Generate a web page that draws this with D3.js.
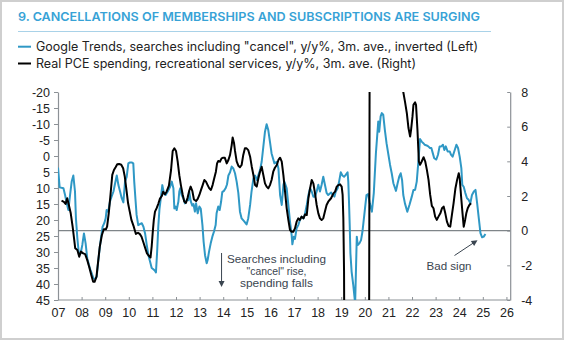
<!DOCTYPE html>
<html>
<head>
<meta charset="utf-8">
<script src="https://cdn.jsdelivr.net/npm/d3@7"></script>
<style>
  html, body { margin: 0; padding: 0; background: #fff; }
  svg { display: block; }
  text { font-family: "Liberation Sans", Arial, sans-serif; }
</style>
</head>
<body>
<svg id="chart" width="564" height="340"></svg>
<script>
// ---------- DATA ----------
const titleText = "9. CANCELLATIONS OF MEMBERSHIPS AND SUBSCRIPTIONS ARE SURGING";
const legendLabels = [
  "Google Trends, searches including \"cancel\", y/y%, 3m. ave., inverted (Left)",
  "Real PCE spending, recreational services, y/y%, 3m. ave. (Right)"
];
const xTicks = d3.range(2007, 2027);
const leftTicks = d3.range(-20, 46, 5);
const rightTicks = [-4, -2, 0, 2, 4, 6, 8];

// Google Trends "cancel" searches, y/y %, inverted (left axis) [year, value]
const googleTrends = [
[2007.00,3.6],[2007.07,9.8],[2007.23,10.1],[2007.30,12.2],[2007.37,14.8],[2007.44,16.9],[2007.51,12.2],[2007.58,8.0],
[2007.65,6.1],[2007.72,11.1],[2007.76,19.5],[2007.82,25.7],[2007.89,31.0],[2007.96,30.4],[2008.03,27.8],[2008.10,24.2],
[2008.17,27.3],[2008.24,32.0],[2008.31,34.0],[2008.37,35.5],[2008.43,36.7],[2008.50,38.2],[2008.57,38.5],[2008.64,37.7],
[2008.68,34.6],[2008.75,29.9],[2008.82,25.7],[2008.89,22.1],[2008.96,21.0],[2009.02,19.5],[2009.06,16.9],[2009.13,17.4],
[2009.20,14.3],[2009.27,12.7],[2009.35,11.1],[2009.42,8.5],[2009.49,6.1],[2009.56,9.1],[2009.63,11.1],[2009.70,13.2],
[2009.77,14.5],[2009.84,8.0],[2009.91,6.5],[2009.98,2.3],[2010.05,2.0],[2010.12,2.0],[2010.19,2.3],[2010.23,8.0],
[2010.29,14.3],[2010.33,18.4],[2010.40,21.6],[2010.47,21.3],[2010.55,21.0],[2010.62,22.1],[2010.69,24.2],[2010.76,27.8],
[2010.83,31.0],[2010.90,33.0],[2010.97,35.0],[2011.04,35.4],[2011.10,35.8],[2011.15,36.4],[2011.20,30.0],[2011.25,22.0],
[2011.30,16.5],[2011.36,13.0],[2011.42,9.1],[2011.49,11.7],[2011.56,12.2],[2011.65,11.1],[2011.75,9.6],[2011.82,8.0],
[2011.89,10.1],[2011.93,16.4],[2011.98,15.8],[2012.03,16.9],[2012.07,15.3],[2012.10,14.3],[2012.14,11.1],[2012.18,10.1],
[2012.24,12.2],[2012.31,13.2],[2012.38,14.8],[2012.45,13.8],[2012.52,13.8],[2012.56,11.1],[2012.62,14.0],[2012.69,15.5],
[2012.74,15.0],[2012.80,17.4],[2012.85,14.8],[2012.92,17.9],[2012.99,15.8],[2013.05,16.5],[2013.12,21.6],[2013.17,26.8],
[2013.23,31.0],[2013.30,33.5],[2013.34,32.5],[2013.40,29.9],[2013.47,27.3],[2013.54,25.2],[2013.61,23.6],[2013.68,21.6],
[2013.72,17.9],[2013.79,15.8],[2013.85,16.9],[2013.91,14.3],[2013.96,11.3],[2014.03,10.9],[2014.10,10.1],[2014.16,8.9],
[2014.22,6.1],[2014.29,5.1],[2014.36,3.3],[2014.43,3.9],[2014.50,5.4],[2014.57,8.0],[2014.64,11.5],[2014.71,17.4],
[2014.78,19.5],[2014.90,20.5],[2014.99,21.4],[2015.06,19.5],[2015.14,15.3],[2015.20,11.1],[2015.28,7.0],[2015.35,6.1],
[2015.42,7.5],[2015.49,6.0],[2015.56,4.4],[2015.63,1.8],[2015.70,-2.9],[2015.77,-7.6],[2015.84,-9.9],[2015.91,-8.1],
[2015.98,-4.5],[2016.05,-0.8],[2016.17,2.3],[2016.27,1.8],[2016.34,3.9],[2016.41,12.2],[2016.48,15.3],[2016.55,9.1],
[2016.59,8.0],[2016.69,10.1],[2016.76,15.3],[2016.83,20.5],[2016.90,24.7],[2016.93,27.6],[2016.99,25.2],[2017.04,25.9],
[2017.11,22.6],[2017.18,21.6],[2017.25,20.0],[2017.32,19.0],[2017.40,19.5],[2017.47,17.9],[2017.54,15.3],[2017.61,12.2],
[2017.68,10.1],[2017.75,11.1],[2017.82,12.7],[2017.89,12.7],[2017.96,11.1],[2018.03,9.0],[2018.10,11.1],[2018.17,9.0],
[2018.24,6.5],[2018.31,9.0],[2018.38,11.5],[2018.45,12.2],[2018.57,11.4],[2018.64,12.2],[2018.71,12.7],[2018.77,11.1],
[2018.85,10.1],[2018.91,8.0],[2018.98,5.1],[2019.05,6.1],[2019.12,6.5],[2019.19,5.9],[2019.27,5.1],[2019.30,8.0],
[2019.33,14.3],[2019.36,21.6],[2019.39,30.4],[2019.44,36.1],[2019.51,40.3],[2019.59,46.0],[2019.66,25.2],[2019.70,27.8],
[2019.77,27.3],[2019.84,26.3],[2019.90,23.6],[2020.00,16.9],[2020.07,12.2],[2020.14,11.9],[2020.21,14.8],[2020.30,17.4],
[2020.38,11.6],[2020.47,-0.9],[2020.57,-10.8],[2020.61,-7.6],[2020.67,-12.4],[2020.72,-13.4],[2020.78,-12.9],[2020.85,-8.1],
[2020.92,-4.0],[2021.00,-0.4],[2021.07,2.8],[2021.14,5.4],[2021.21,8.5],[2021.32,10.9],[2021.39,8.5],[2021.46,6.4],
[2021.52,5.4],[2021.58,7.6],[2021.63,12.2],[2021.70,14.8],[2021.80,17.4],[2021.89,15.3],[2021.99,12.7],[2022.06,10.6],
[2022.13,10.6],[2022.20,8.0],[2022.27,1.7],[2022.34,-5.3],[2022.41,-4.5],[2022.48,-4.0],[2022.54,-3.5],[2022.62,-3.3],
[2022.69,-3.0],[2022.76,-2.5],[2022.82,-2.5],[2022.88,-0.9],[2022.94,0.7],[2023.03,1.1],[2023.10,-0.4],[2023.17,-3.0],
[2023.24,-3.0],[2023.31,-3.5],[2023.37,-1.9],[2023.43,-3.0],[2023.51,-1.4],[2023.60,-1.4],[2023.65,-0.4],[2023.72,0.2],
[2023.79,-1.4],[2023.88,-3.5],[2023.95,-2.5],[2024.02,0.2],[2024.09,3.8],[2024.13,9.0],[2024.19,9.6],[2024.26,11.6],
[2024.33,13.2],[2024.40,13.7],[2024.47,14.8],[2024.54,12.2],[2024.62,11.1],[2024.69,10.6],[2024.76,14.8],[2024.83,19.5],
[2024.90,24.1],[2024.97,25.4],[2025.04,25.2],[2025.11,24.4]
];

// Real PCE spending, recreational services, y/y %, 3m ave (right axis) [year, value]
const realPCE = [
[2007.15,1.73],[2007.25,1.66],[2007.32,1.54],[2007.39,1.87],[2007.45,1.54],[2007.54,1.0],[2007.62,0.23],[2007.68,-0.44],
[2007.73,-1.02],[2007.82,-1.12],[2007.90,-1.5],[2007.97,-1.21],[2008.07,-1.31],[2008.15,-1.35],[2008.24,-1.7],[2008.32,-2.08],
[2008.41,-2.56],[2008.49,-2.95],[2008.55,-2.95],[2008.63,-2.66],[2008.70,-1.79],[2008.77,-0.92],[2008.86,-0.25],[2008.94,0.08],
[2009.03,0.08],[2009.08,0.23],[2009.15,1.0],[2009.23,2.16],[2009.30,3.22],[2009.37,3.5],[2009.44,3.66],[2009.51,3.83],
[2009.59,3.85],[2009.68,3.8],[2009.76,3.6],[2009.83,3.12],[2009.90,2.35],[2009.97,1.58],[2010.04,1.1],[2010.11,0.62],
[2010.21,0.23],[2010.30,-0.19],[2010.39,-0.12],[2010.47,-0.2],[2010.54,-0.35],[2010.61,-0.64],[2010.70,-1.02],[2010.77,-1.31],
[2010.85,-1.45],[2010.92,-1.55],[2010.97,-0.9],[2011.02,0.0],[2011.06,0.62],[2011.11,1.1],[2011.18,1.3],[2011.25,1.55],
[2011.32,1.85],[2011.40,2.0],[2011.46,2.25],[2011.53,2.1],[2011.60,2.25],[2011.70,2.6],[2011.79,3.5],[2011.86,4.6],
[2011.93,4.75],[2012.00,4.6],[2012.07,4.0],[2012.14,3.2],[2012.21,2.6],[2012.28,2.1],[2012.35,1.68],[2012.42,1.6],
[2012.49,1.9],[2012.56,2.3],[2012.62,2.54],[2012.69,2.3],[2012.76,1.8],[2012.85,1.71],[2012.92,1.83],[2012.99,2.06],
[2013.06,2.35],[2013.13,2.63],[2013.20,2.92],[2013.27,2.83],[2013.34,2.63],[2013.41,2.44],[2013.48,2.35],[2013.55,2.63],
[2013.62,3.02],[2013.69,3.4],[2013.74,3.88],[2013.79,4.02],[2013.86,3.98],[2013.93,4.17],[2014.00,4.21],[2014.07,4.2],
[2014.15,3.88],[2014.22,4.08],[2014.29,4.37],[2014.36,4.94],[2014.40,5.38],[2014.46,5.04],[2014.50,4.6],[2014.57,4.0],
[2014.64,3.75],[2014.71,3.66],[2014.78,3.79],[2014.85,4.37],[2014.92,4.75],[2014.99,4.75],[2015.06,4.65],[2015.14,4.27],
[2015.21,3.69],[2015.28,3.21],[2015.35,2.63],[2015.42,2.54],[2015.49,3.02],[2015.56,3.4],[2015.63,3.69],[2015.70,3.21],
[2015.77,2.73],[2015.84,2.54],[2015.91,2.44],[2015.98,2.63],[2016.05,2.92],[2016.12,3.4],[2016.19,3.63],[2016.27,3.79],
[2016.34,4.08],[2016.41,4.21],[2016.48,3.98],[2016.55,3.21],[2016.62,2.25],[2016.69,1.29],[2016.76,0.62],[2016.83,0.04],
[2016.90,-0.06],[2016.97,-0.06],[2017.04,0.13],[2017.11,0.52],[2017.18,0.71],[2017.25,0.62],[2017.32,0.81],[2017.40,0.71],
[2017.47,0.94],[2017.54,0.9],[2017.61,1.87],[2017.68,2.44],[2017.75,2.92],[2017.82,2.73],[2017.89,2.15],[2017.96,1.48],
[2018.03,1.0],[2018.10,0.71],[2018.17,0.62],[2018.24,0.71],[2018.31,1.1],[2018.38,1.48],[2018.45,1.67],[2018.57,1.87],
[2018.67,2.15],[2018.74,2.25],[2018.81,2.54],[2018.88,2.63],[2018.95,2.67],[2019.02,2.54],[2019.06,2.06],[2019.09,0.71],
[2019.12,-2.37],[2019.15,-12],[2019.60,-30],[2020.17,-14],[2020.21,14],[2020.90,30],[2021.55,10],[2021.63,8.0],
[2021.70,7.46],[2021.78,6.78],[2021.85,5.92],[2021.92,5.43],[2021.96,5.82],[2022.02,6.59],[2022.06,7.26],[2022.13,7.4],
[2022.17,7.26],[2022.23,5.82],[2022.29,3.99],[2022.34,3.8],[2022.41,3.99],[2022.49,4.24],[2022.56,3.99],[2022.63,3.51],
[2022.70,2.93],[2022.77,2.06],[2022.84,1.43],[2022.91,1.29],[2022.98,0.81],[2023.05,0.62],[2023.12,0.81],[2023.20,1.0],
[2023.27,1.29],[2023.34,1.39],[2023.41,1.0],[2023.48,0.52],[2023.55,0.27],[2023.62,0.23],[2023.69,0.91],[2023.76,1.58],
[2023.84,2.45],[2023.91,2.93],[2023.98,3.31],[2024.02,3.03],[2024.08,1.97],[2024.14,1.0],[2024.19,0.23],[2024.25,0.62],
[2024.30,1.0],[2024.36,1.29],[2024.43,1.48],[2024.50,1.58]
];

const annoSearches = ["Searches including", "\"cancel\" rise,", "spending falls"];
const annoBad = "Bad sign";

// ---------- STYLE ----------
const blue = "#2f98c5";
const titleBlue = "#37a2d6";
const axisGray = "#8c9196";
const textDark = "#222";
const annoColor = "#3a4550";

const svg = d3.select("#chart");
const W = 564, H = 340;
const plot = { left: 58, right: 510.2, top: 92, bottom: 300 };

// frame
svg.append("rect").attr("x", 1).attr("y", 1).attr("width", W - 2).attr("height", H - 2)
  .attr("fill", "#fff").attr("stroke", "#cfcfcf").attr("stroke-width", 2);

// title
svg.append("text").attr("x", 18).attr("y", 20.5)
  .attr("font-weight", 600).attr("font-size", 12.2).attr("fill", titleBlue)
  .attr("textLength", 462).attr("lengthAdjust", "spacingAndGlyphs")
  .style("font-family", "Inter, 'Open Sans', sans-serif")
  .text(titleText);
svg.append("line").attr("x1", 18).attr("x2", 491).attr("y1", 31.5).attr("y2", 31.5)
  .attr("stroke", "#a9d2e8").attr("stroke-width", 1);

// legend
const legendColors = [blue, "#000"];
const legendWidths = [442, 380];
legendLabels.forEach((lab, i) => {
  const y = 46.7 + i * 16.8;
  svg.append("line").attr("x1", 18).attr("x2", 31).attr("y1", y).attr("y2", y)
    .attr("stroke", legendColors[i]).attr("stroke-width", 2);
  svg.append("text").attr("x", 36).attr("y", y + 4.4)
    .attr("font-size", 12.6).attr("fill", textDark)
    .style("font-family", "Inter, 'Open Sans', sans-serif")
    .attr("textLength", legendWidths[i]).attr("lengthAdjust", "spacingAndGlyphs")
    .text(lab);
});

// scales
const x = d3.scaleLinear().domain([2007, 2026.16]).range([plot.left, plot.right]);
const yL = d3.scaleLinear().domain([-20, 45]).range([plot.top, plot.bottom]);
const yR = d3.scaleLinear().domain([8, -4]).range([plot.top, plot.bottom]);

// axes
const fmtYear = d => String(d % 100).padStart(2, "0");
const gx = svg.append("g").attr("transform", `translate(0,${plot.bottom})`)
  .call(d3.axisBottom(x).tickValues(xTicks).tickFormat(fmtYear).tickSize(-3).tickPadding(8).tickSizeOuter(0));
const gl = svg.append("g").attr("transform", `translate(${plot.left},0)`)
  .call(d3.axisLeft(yL).tickValues(leftTicks).tickFormat(d => String(d)).tickSize(4).tickPadding(4).tickSizeOuter(0));
const gr = svg.append("g").attr("transform", `translate(${plot.right},0)`)
  .call(d3.axisRight(yR).tickValues(rightTicks).tickFormat(d => String(d)).tickSize(-3).tickPadding(11).tickSizeOuter(0));

[gx, gl, gr].forEach(g => {
  g.select(".domain").attr("stroke", axisGray).attr("stroke-width", 1.2);
  g.selectAll(".tick line").attr("stroke", axisGray);
  g.selectAll(".tick text").attr("fill", textDark).attr("font-size", 12.5)
    .style("font-family", "'Liberation Sans', Arial, sans-serif");
});
gx.select(".domain").attr("d", `M${plot.left},0H${plot.right}`);

// zero line (right axis 0)
svg.append("line").attr("x1", plot.left).attr("x2", plot.right)
  .attr("y1", yR(0)).attr("y2", yR(0))
  .attr("stroke", "#7f8589").attr("stroke-width", 1.2);

// clip
svg.append("clipPath").attr("id", "clip").append("rect")
  .attr("x", plot.left).attr("y", plot.top)
  .attr("width", plot.right - plot.left).attr("height", plot.bottom - plot.top);

const lineL = d3.line().x(d => x(d[0])).y(d => yL(d[1]));
const lineR = d3.line().x(d => x(d[0])).y(d => yR(d[1]));

svg.append("path").datum(googleTrends).attr("clip-path", "url(#clip)")
  .attr("d", lineL).attr("fill", "none").attr("stroke", blue)
  .attr("stroke-width", 2).attr("stroke-linejoin", "round");
svg.append("path").datum(realPCE).attr("clip-path", "url(#clip)")
  .attr("d", lineR).attr("fill", "none").attr("stroke", "#000")
  .attr("stroke-width", 2).attr("stroke-linejoin", "round");

// annotation: searches
const annoX = x(2013.93);
const annoWidths = [99, 60, 73];
annoSearches.forEach((t, i) => {
  svg.append("text").attr("x", 276.5).attr("y", 262.5 + i * 12.4)
    .attr("text-anchor", "middle").attr("font-size", 10.8).attr("fill", annoColor)
    .attr("textLength", annoWidths[i]).attr("lengthAdjust", "spacingAndGlyphs")
    .style("font-family", "'Liberation Sans', Arial, sans-serif")
    .text(t);
});
svg.append("line").attr("x1", annoX).attr("x2", annoX).attr("y1", 253).attr("y2", 282)
  .attr("stroke", annoColor).attr("stroke-width", 1);
svg.append("path")
  .attr("d", `M${annoX - 3},${281} L${annoX + 3},${281} L${annoX},${287} Z`)
  .attr("fill", annoColor);

// annotation: bad sign
svg.append("text").attr("x", 449).attr("y", 269.5)
  .attr("text-anchor", "middle").attr("font-size", 10.8).attr("fill", annoColor)
  .attr("textLength", 45).attr("lengthAdjust", "spacingAndGlyphs")
  .style("font-family", "'Liberation Sans', Arial, sans-serif")
  .text(annoBad);
const a0 = [454.5, 255.5], a1 = [477.5, 240.3];
svg.append("line").attr("x1", a0[0]).attr("y1", a0[1]).attr("x2", a1[0] - 4).attr("y2", a1[1] + 2.6)
  .attr("stroke", annoColor).attr("stroke-width", 1);
{
  const ang = Math.atan2(a1[1] - a0[1], a1[0] - a0[0]);
  const L = 6, Wd = 3;
  const bx = a1[0] - L * Math.cos(ang), by = a1[1] - L * Math.sin(ang);
  const px = -Math.sin(ang) * Wd, py = Math.cos(ang) * Wd;
  svg.append("path")
    .attr("d", `M${a1[0]},${a1[1]} L${bx + px},${by + py} L${bx - px},${by - py} Z`)
    .attr("fill", annoColor);
}
</script>
</body>
</html>
